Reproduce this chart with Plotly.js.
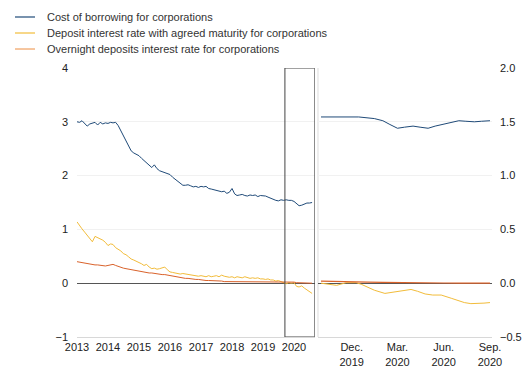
<!DOCTYPE html>
<html>
<head>
<meta charset="utf-8">
<script src="https://cdn.plot.ly/plotly-3.0.1.min.js"></script>
<style>html,body{margin:0;padding:0;background:#fff;}#chart{width:532px;height:377px;}</style>
</head>
<body>
<div id="chart"></div>
<script>
// ---- Data ----
const seriesNames = [
  "Cost of borrowing for corporations",
  "Deposit interest rate with agreed maturity for corporations",
  "Overnight deposits interest rate for corporations"
];

// Long-run panel: monthly, Jan 2013 - Aug 2020
const monthlyStart = [2013, 1];
const costBorrowing = [
  3.00, 2.99, 3.02, 2.97, 2.92, 2.96, 2.98, 2.99, 2.94, 2.99, 2.96, 2.98,
  2.97, 2.99, 2.98, 2.99, 2.93, 2.84, 2.74, 2.66, 2.56, 2.46, 2.42, 2.39,
  2.37, 2.32, 2.28, 2.24, 2.20, 2.15, 2.20, 2.13, 2.09, 2.07, 2.05, 2.04,
  2.02, 1.97, 1.93, 1.90, 1.86, 1.82, 1.82, 1.83, 1.81, 1.79, 1.80, 1.78,
  1.80, 1.79, 1.80, 1.76, 1.75, 1.74, 1.73, 1.72, 1.70, 1.71, 1.67, 1.69,
  1.76, 1.66, 1.63, 1.64, 1.65, 1.63, 1.62, 1.64, 1.63, 1.64, 1.61, 1.63,
  1.63, 1.62, 1.60, 1.58, 1.55, 1.54, 1.53, 1.55, 1.54, 1.55, 1.54, 1.54,
  1.52, 1.48, 1.44, 1.45, 1.47, 1.49, 1.49, 1.50
];
const depositAgreed = [
  1.14, 1.06, 1.01, 0.95, 0.89, 0.84, 0.77, 0.87, 0.85, 0.82, 0.80, 0.76,
  0.70, 0.73, 0.72, 0.66, 0.63, 0.60, 0.55, 0.53, 0.49, 0.45, 0.43, 0.41,
  0.38, 0.36, 0.33, 0.35, 0.30, 0.27, 0.28, 0.26, 0.27, 0.28, 0.30, 0.25,
  0.21, 0.20, 0.19, 0.18, 0.17, 0.18, 0.17, 0.16, 0.15, 0.15, 0.14, 0.13,
  0.14, 0.13, 0.12, 0.14, 0.12, 0.13, 0.14, 0.12, 0.15, 0.13, 0.12, 0.11,
  0.12, 0.10, 0.12, 0.11, 0.10, 0.12, 0.11, 0.09, 0.10, 0.09, 0.10, 0.08,
  0.08, 0.07, 0.08, 0.06, 0.06, 0.04, 0.05, 0.03, 0.01, -0.01, 0.01, 0.00,
  0.01, -0.06, -0.07, -0.05, -0.09, -0.12, -0.15, -0.19
];
const depositOvernight = [
  0.40, 0.39, 0.38, 0.37, 0.36, 0.36, 0.35, 0.34, 0.34, 0.33, 0.33, 0.32,
  0.33, 0.34, 0.35, 0.33, 0.31, 0.29, 0.28, 0.27, 0.26, 0.25, 0.24, 0.23,
  0.23, 0.22, 0.21, 0.20, 0.19, 0.19, 0.18, 0.17, 0.17, 0.16, 0.16, 0.15,
  0.14, 0.13, 0.13, 0.12, 0.11, 0.10, 0.09, 0.09, 0.08, 0.08, 0.07, 0.07,
  0.06, 0.06, 0.05, 0.05, 0.05, 0.04, 0.04, 0.04, 0.04, 0.03, 0.03, 0.03,
  0.03, 0.03, 0.03, 0.03, 0.03, 0.03, 0.02, 0.02, 0.02, 0.02, 0.02, 0.02,
  0.02, 0.02, 0.02, 0.02, 0.02, 0.02, 0.02, 0.02, 0.02, 0.02, 0.02, 0.02,
  0.02, 0.01, 0.01, 0.01, 0.01, 0.01, 0.00, 0.00
];

// Zoomed panel (right axis): Oct 2019 - Sep 2020
const zoomBorrowDates = ["2019-10-01","2019-11-15","2019-12-15","2020-01-15","2020-02-01","2020-02-15","2020-03-01","2020-03-15","2020-04-01","2020-04-15","2020-05-01","2020-05-15","2020-06-01","2020-06-15","2020-07-01","2020-07-15","2020-08-01","2020-08-15","2020-09-01"];
const zoomBorrow = [1.545, 1.545, 1.545, 1.53, 1.51, 1.475, 1.44, 1.45, 1.46, 1.45, 1.44, 1.46, 1.48, 1.495, 1.51, 1.505, 1.50, 1.505, 1.51];
const zoomDepositDates = ["2019-10-01","2019-10-15","2019-11-01","2019-11-20","2019-12-10","2019-12-20","2020-01-01","2020-01-15","2020-02-05","2020-02-20","2020-03-08","2020-03-28","2020-04-10","2020-04-25","2020-05-10","2020-05-27","2020-06-16","2020-07-01","2020-07-12","2020-07-25","2020-08-08","2020-08-20","2020-09-01"];
const zoomDeposit = [0.00, -0.01, -0.02, 0.005, 0.005, -0.01, -0.035, -0.065, -0.095, -0.085, -0.07, -0.058, -0.075, -0.10, -0.11, -0.11, -0.14, -0.16, -0.18, -0.19, -0.19, -0.185, -0.18];
const zoomOvernightDates = ["2019-10-01","2019-11-01","2019-12-01","2019-12-15","2020-01-01","2020-02-01","2020-03-01","2020-04-01","2020-05-01","2020-06-01","2020-07-01","2020-08-01","2020-09-01"];
const zoomOvernight = [0.02, 0.018, 0.015, 0.018, 0.01, 0.008, 0.005, 0.004, 0.003, 0.002, 0.001, 0.0, 0.0];

// Tick labels
const yearTickVals = ["2013-01-01","2014-01-01","2015-01-01","2016-01-01","2017-01-01","2018-01-01","2019-01-01","2020-01-01"];
const yearTickText = ["2013","2014","2015","2016","2017","2018","2019","2020"];
const zoomTickVals = ["2019-12-01","2020-03-01","2020-06-01","2020-09-01"];
const zoomTickText = ["Dec.<br>2019","Mar.<br>2020","Jun.<br>2020","Sep.<br>2020"];

// ---- Build monthly dates ----
function monthlyDates(start, n) {
  const out = [];
  for (let i = 0; i < n; i++) {
    const y = start[0] + Math.floor((start[1] - 1 + i) / 12);
    const m = ((start[1] - 1 + i) % 12) + 1;
    out.push(y + "-" + String(m).padStart(2, "0") + "-01");
  }
  return out;
}
const monthly = monthlyDates(monthlyStart, costBorrowing.length);

const colBlue = "#1f4a78";
const colYellow = "#f2bc3a";
const colOrange = "#d9622b";
const legendColors = [colBlue, colYellow, "#f0a060"];

const traces = [
  {x: monthly, y: depositAgreed, name: seriesNames[1], type: "scatter", mode: "lines", line: {color: colYellow, width: 1}, xaxis: "x", yaxis: "y"},
  {x: monthly, y: depositOvernight, name: seriesNames[2], type: "scatter", mode: "lines", line: {color: colOrange, width: 1}, xaxis: "x", yaxis: "y"},
  {x: monthly, y: costBorrowing, name: seriesNames[0], type: "scatter", mode: "lines", line: {color: colBlue, width: 1}, xaxis: "x", yaxis: "y"},
  {x: zoomDepositDates, y: zoomDeposit, name: seriesNames[1], type: "scatter", mode: "lines", line: {color: colYellow, width: 1}, xaxis: "x2", yaxis: "y2"},
  {x: zoomOvernightDates, y: zoomOvernight, name: seriesNames[2], type: "scatter", mode: "lines", line: {color: colOrange, width: 1.2}, xaxis: "x2", yaxis: "y2"},
  {x: zoomBorrowDates, y: zoomBorrow, name: seriesNames[0], type: "scatter", mode: "lines", line: {color: colBlue, width: 1}, xaxis: "x2", yaxis: "y2"}
];

const font = {family: "Liberation Sans, Arial, sans-serif", size: 11, color: "#222"};

// Legend drawn as key lines + text annotations (tight 16px rows like the reference)
const legendRowsY = [1.1896, 1.1301, 1.0706];
const legendShapes = seriesNames.map((n, i) => ({
  type: "line", xref: "paper", yref: "paper",
  x0: -0.1494, x1: -0.1012, y0: legendRowsY[i], y1: legendRowsY[i],
  line: {color: legendColors[i], width: 1.2}
}));
const legendAnn = seriesNames.map((n, i) => ({
  text: n, xref: "paper", yref: "paper", x: -0.0771, y: legendRowsY[i],
  xanchor: "left", yanchor: "middle", showarrow: false,
  font: {family: "Liberation Sans, Arial, sans-serif", size: 11, color: "#333"}
}));

const layout = {
  width: 532, height: 377,
  margin: {l: 77, r: 40, t: 68, b: 40, pad: 0},
  paper_bgcolor: "#fff", plot_bgcolor: "#fff",
  font: font,
  showlegend: false,
  xaxis: {
    domain: [0, 0.5728], range: ["2013-01-01", "2020-09-01"], type: "date",
    tickmode: "array", tickvals: yearTickVals, ticktext: yearTickText,
    showgrid: false, zeroline: false, showline: true, linecolor: "#d8d8d8", linewidth: 1,
    ticks: "", anchor: "y"
  },
  yaxis: {
    domain: [0, 1], range: [-1, 4], dtick: 1, tick0: 0,
    showgrid: true, gridcolor: "#f1f1f1", zeroline: true, zerolinecolor: "#555", zerolinewidth: 1,
    showline: false, ticks: "", ticklabelstandoff: 8, anchor: "x"
  },
  xaxis2: {
    domain: [0.5807, 1], range: ["2019-09-25", "2020-09-05"], type: "date",
    tickmode: "array", tickvals: zoomTickVals, ticktext: zoomTickText,
    showgrid: false, zeroline: false, showline: true, linecolor: "#d8d8d8", linewidth: 1,
    ticks: "", anchor: "y2"
  },
  yaxis2: {
    domain: [0, 1], range: [-0.5, 2.0], dtick: 0.5, tick0: 0, tickformat: ".1f",
    side: "right", anchor: "x2",
    showgrid: true, gridcolor: "#f1f1f1", zeroline: true, zerolinecolor: "#555", zerolinewidth: 1,
    showline: false, ticks: "", ticklabelstandoff: 7
  },
  shapes: [
    {type: "rect", xref: "x", yref: "y", x0: "2019-09-16", x1: "2020-08-31", y0: -1, y1: 4,
     line: {color: "#444", width: 1}, fillcolor: "rgba(0,0,0,0)", layer: "above"},
    {type: "line", xref: "x2 domain", yref: "paper", x0: 0, x1: 0, y0: 0, y1: 1,
     line: {color: "#dcdcdc", width: 1}, layer: "below"}
  ].concat(legendShapes),
  annotations: legendAnn
};

Plotly.newPlot("chart", traces, layout, {displayModeBar: false, staticPlot: true});
</script>
</body>
</html>
